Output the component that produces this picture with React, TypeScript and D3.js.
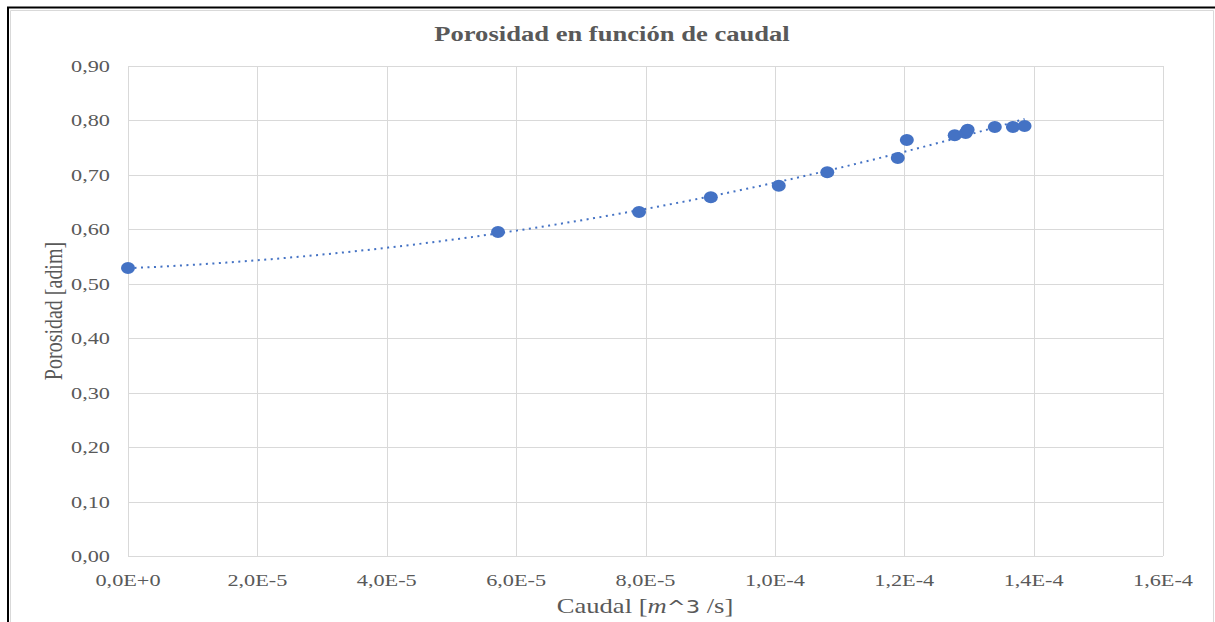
import React from "react";
import * as d3 from "d3";

const caudal = [0, 5.72e-5, 7.9e-5, 9.01e-5, 1.006e-4, 1.081e-4, 1.19e-4, 1.204e-4, 1.278e-4, 1.295e-4, 1.298e-4, 1.34e-4, 1.368e-4, 1.386e-4];
const porosidad = [0.529, 0.595, 0.632, 0.659, 0.68, 0.705, 0.731, 0.764, 0.773, 0.777, 0.783, 0.788, 0.788, 0.79];
const xTicks = [0, 2e-5, 4e-5, 6e-5, 8e-5, 1e-4, 1.2e-4, 1.4e-4, 1.6e-4];
const xTickLabels = ["0,0E+0", "2,0E-5", "4,0E-5", "6,0E-5", "8,0E-5", "1,0E-4", "1,2E-4", "1,4E-4", "1,6E-4"];
const yTicks = [0, 0.1, 0.2, 0.3, 0.4, 0.5, 0.6, 0.7, 0.8, 0.9];
const yTickLabels = ["0,00", "0,10", "0,20", "0,30", "0,40", "0,50", "0,60", "0,70", "0,80", "0,90"];
const title = "Porosidad en función de caudal";
const yTitle = "Porosidad [adim]";

const W = 1215;
const H = 622;
const left = 128, right = 1163, top = 66, bottom = 556;
const SX = 1.31;
const FONT = "'Liberation Serif', 'Times New Roman', serif";
const TXT = "#595959";
const GRID = "#d9d9d9";
const BLUE = "#4472C4";

function quadFit(xs: number[], ys: number[]) {
  // least squares y = a + b t + c t^2, t = x*1e5
  const n = xs.length;
  let s = [0, 0, 0, 0, 0];
  let r = [0, 0, 0];
  for (let i = 0; i < n; i++) {
    const t = xs[i] * 1e5;
    let p = 1;
    for (let k = 0; k < 5; k++) { s[k] += p; p *= t; }
    r[0] += ys[i]; r[1] += ys[i] * t; r[2] += ys[i] * t * t;
  }
  const M = [[s[0], s[1], s[2], r[0]], [s[1], s[2], s[3], r[1]], [s[2], s[3], s[4], r[2]]];
  for (let i = 0; i < 3; i++) {
    for (let j = i + 1; j < 3; j++) {
      const f = M[j][i] / M[i][i];
      for (let k = i; k < 4; k++) M[j][k] -= f * M[i][k];
    }
  }
  const c = M[2][3] / M[2][2];
  const b = (M[1][3] - M[1][2] * c) / M[1][1];
  const a = (M[0][3] - M[0][1] * b - M[0][2] * c) / M[0][0];
  return (x: number) => { const t = x * 1e5; return a + b * t + c * t * t; };
}

function SText({ x, y, sx = SX, size, anchor = "middle", bold = false, children }: any) {
  return (
    <text transform={`translate(${x},${y}) scale(${sx},1)`} fontFamily={FONT} fontSize={size}
      fontWeight={bold ? "bold" : "normal"} fill={TXT} textAnchor={anchor}>
      {children}
    </text>
  );
}

export default function App() {
  const x = d3.scaleLinear().domain([0, 1.6e-4]).range([left, right]);
  const y = d3.scaleLinear().domain([0, 0.9]).range([bottom, top]);
  const f = quadFit(caudal, porosidad);
  const xmax = d3.max(caudal) as number;
  const trendPts = d3.range(0, 101).map((i) => (i / 100) * xmax);
  const line = d3.line<number>().x((d) => x(d)).y((d) => y(f(d)));

  return (
    <svg width={W} height={H} style={{ position: "absolute", left: 0, top: 0, background: "#fff" }}>
      <rect x={0} y={0} width={W} height={H} fill="#fff" />
      {/* frame */}
      <line x1={10.5} y1={10.5} x2={1213.5} y2={10.5} stroke={GRID} strokeWidth={1} />
      <line x1={10.5} y1={10.5} x2={10.5} y2={H} stroke={GRID} strokeWidth={1} />
      <line x1={1213.5} y1={10.5} x2={1213.5} y2={H} stroke={GRID} strokeWidth={1} />
      <line x1={7} y1={7.5} x2={W} y2={7.5} stroke="#000" strokeWidth={2} />
      <line x1={8} y1={7} x2={8} y2={H} stroke="#000" strokeWidth={2} />

      {/* grid */}
      {yTicks.map((t) => (
        <line key={"gy" + t} x1={left} x2={right} y1={Math.round(y(t)) + 0.5} y2={Math.round(y(t)) + 0.5} stroke={GRID} strokeWidth={1} />
      ))}
      {xTicks.map((t) => (
        <line key={"gx" + t} x1={Math.round(x(t)) + 0.5} x2={Math.round(x(t)) + 0.5} y1={top} y2={bottom} stroke={GRID} strokeWidth={1} />
      ))}

      {/* tick labels */}
      {yTicks.map((t, i) => (
        <SText key={"yl" + t} x={110} y={y(t) + 6} size={17} anchor="end">{yTickLabels[i]}</SText>
      ))}
      {xTicks.map((t, i) => (
        <SText key={"xl" + t} x={x(t)} y={586} size={17}>{xTickLabels[i]}</SText>
      ))}

      {/* title */}
      <SText x={612} y={41} size={20} bold sx={1.33}>{title}</SText>

      {/* axis titles */}
      <text transform={`translate(62,311) rotate(-90) scale(1,1.3)`} fontFamily={FONT} fontSize={20} fill={TXT} textAnchor="middle">{yTitle}</text>
      <text transform={`translate(645,613) scale(1.33,1)`} fontFamily={FONT} fontSize={20} fill={TXT} textAnchor="middle">
        <tspan>Caudal [</tspan>
        <tspan fontStyle="italic">m</tspan>
        <tspan fontFamily="'DejaVu Sans', sans-serif" fontSize={17}>^3</tspan>
        <tspan> /s]</tspan>
      </text>

      {/* trend line */}
      <path d={line(trendPts) || ""} fill="none" stroke={BLUE} strokeWidth={2} strokeDasharray="2,4.5" />

      {/* points */}
      {caudal.map((c, i) => (
        <ellipse key={"p" + i} cx={x(c)} cy={y(porosidad[i])} rx={7} ry={6} fill={BLUE} />
      ))}
    </svg>
  );
}
